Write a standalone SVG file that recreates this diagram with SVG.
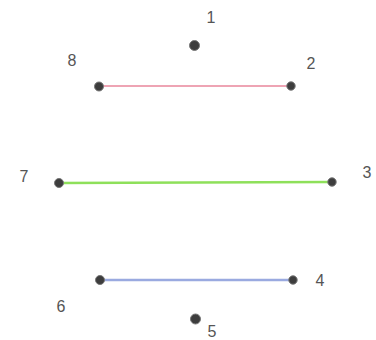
<svg xmlns="http://www.w3.org/2000/svg" width="376" height="340" viewBox="0 0 376 340">
<style>
.lbl{font-family:"Liberation Sans",Arial,sans-serif;font-size:16px;fill:#555;text-anchor:middle}
.pt{fill:#3d3d3d;stroke:#777;stroke-width:1}
</style>
<rect width="376" height="340" fill="#fff"/>
<g id="connectors">
<line x1="99" y1="86" x2="291" y2="86" stroke="#eea4b4" stroke-width="2"/>
<line x1="59" y1="183" x2="332" y2="182" stroke="#8ee05a" stroke-width="2.5"/>
<line x1="100" y1="280" x2="293" y2="280" stroke="#9aaae0" stroke-width="2.5"/>
</g>
<g id="n1"><circle class="pt" cx="194.5" cy="45.5" r="5"/><text class="lbl" x="211" y="23">1</text></g>
<g id="n2"><circle class="pt" cx="291" cy="86" r="4.2"/><text class="lbl" x="311" y="69">2</text></g>
<g id="n3"><circle class="pt" cx="332" cy="182" r="4.2"/><text class="lbl" x="367" y="178">3</text></g>
<g id="n4"><circle class="pt" cx="293" cy="280" r="4.2"/><text class="lbl" x="320" y="286">4</text></g>
<g id="n5"><circle class="pt" cx="195.5" cy="319" r="5"/><text class="lbl" x="212" y="337">5</text></g>
<g id="n6"><circle class="pt" cx="100" cy="280" r="4.5"/><text class="lbl" x="61" y="312">6</text></g>
<g id="n7"><circle class="pt" cx="59" cy="183" r="4.5"/><text class="lbl" x="24" y="182">7</text></g>
<g id="n8"><circle class="pt" cx="99" cy="86.5" r="4.5"/><text class="lbl" x="72" y="66">8</text></g>
</svg>
